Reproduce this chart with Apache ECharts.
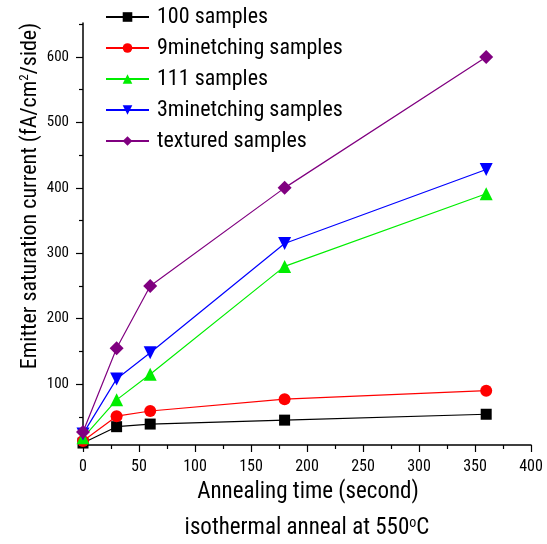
<!DOCTYPE html>
<html>
<head>
<meta charset="utf-8">
<script src="https://cdn.jsdelivr.net/npm/echarts@6/dist/echarts.min.js"></script>
<style>html,body{margin:0;padding:0;background:#fff}#c{width:547px;height:544px}</style>
</head>
<body>
<div id="c"></div>
<script>
const times = [0, 30, 60, 180, 360];
const s100 = [10, 35, 39, 45, 54];
const s9min = [13, 51, 59, 77, 90];
const s111 = [18, 76, 115, 280, 391];
const s3min = [24, 108, 148, 315, 428];
const sTextured = [27, 155, 250, 400, 600];
const seriesNames = ['100 samples', '9minetching samples', '111 samples', '3minetching samples', 'textured samples'];
const xTicks = [0, 50, 100, 150, 200, 250, 300, 350, 400];
const yMajor = [100, 200, 300, 400, 500, 600];
const yMinor = [50, 150, 250, 350, 450, 550, 650];

const FONT = '"Roboto Condensed", "Liberation Sans", Arial, sans-serif';
const colors = ['#000000', '#ff0000', '#00ee00', '#0000ff', '#800080'];
const symbols = ['rect', 'circle', 'triangle', 'path://M0,0 L10,0 L5,10 Z', 'diamond'];
const sizes = [11, 12, 13, 13, 14];
const datas = [s100, s9min, s111, s3min, sTextured];

const chart = echarts.init(document.getElementById('c'), null, {renderer: 'canvas'});
const series = datas.map((d, i) => ({
  name: seriesNames[i],
  type: 'line',
  yAxisIndex: 0,
  data: times.map((t, j) => [t, d[j]]),
  symbol: symbols[i],
  symbolSize: sizes[i],
  showAllSymbol: true,
  lineStyle: {color: colors[i], width: 1.2},
  itemStyle: {color: colors[i]},
  emphasis: {disabled: true},
  z: 2 + i
}));

chart.setOption({
  animation: false,
  backgroundColor: '#ffffff',
  grid: {left: 83, right: 16, top: 23, bottom: 99, containLabel: false},
  legend: {
    orient: 'vertical',
    left: 105,
    top: 6,
    padding: 0,
    itemWidth: 43,
    itemHeight: 12,
    itemGap: 9,
    data: seriesNames,
    textStyle: {fontFamily: FONT, fontSize: 22, color: '#000', padding: [0, 0, 0, 3]}
  },
  xAxis: {
    type: 'value',
    min: 0,
    max: 400,
    interval: 50,
    axisLine: {show: true, onZero: false, lineStyle: {color: '#000', width: 1.5}},
    axisTick: {show: true, length: 7, lineStyle: {color: '#000', width: 1.2}},
    minorTick: {show: true, splitNumber: 2, length: 4, lineStyle: {color: '#000', width: 1.2}},
    splitLine: {show: false},
    axisLabel: {fontFamily: FONT, fontSize: 16, color: '#000', margin: 14,
      customValues: xTicks}
  },
  yAxis: [{
    type: 'value',
    min: 7,
    max: 652,
    axisLine: {show: true, onZero: false, lineStyle: {color: '#000', width: 1.5}},
    axisTick: {show: true, length: 7, customValues: yMajor, lineStyle: {color: '#000', width: 1.2}},
    splitLine: {show: false},
    axisLabel: {fontFamily: FONT, fontSize: 15, color: '#000', margin: 14, customValues: yMajor}
  }, {
    type: 'value',
    position: 'left',
    min: 7,
    max: 652,
    axisLine: {show: false},
    axisTick: {show: true, length: 4, customValues: yMinor, lineStyle: {color: '#000', width: 1.2}},
    splitLine: {show: false},
    axisLabel: {show: false}
  }],
  graphic: [{
    type: 'text',
    x: 30, y: 196,
    rotation: Math.PI / 2,
    style: {
      text: 'Emitter saturation current (fA/cm{sup|2}/side)',
      fontFamily: FONT, fontSize: 22, fill: '#000',
      align: 'center', verticalAlign: 'middle',
      rich: {sup: {fontFamily: FONT, fontSize: 13, padding: [0, 0, 10, 0]}}
    }
  }, {
    type: 'text',
    x: 308, y: 492,
    style: {
      text: 'Annealing time (second)',
      fontFamily: FONT, fontSize: 23, fill: '#000',
      align: 'center', verticalAlign: 'middle'
    }
  }, {
    type: 'text',
    x: 307, y: 528,
    style: {
      text: 'isothermal anneal at 550{sup|o}C',
      fontFamily: FONT, fontSize: 23, fill: '#000',
      align: 'center', verticalAlign: 'middle',
      rich: {sup: {fontFamily: FONT, fontSize: 14, padding: [0, 0, 10, 0]}}
    }
  }],
  series: series
});
</script>
</body>
</html>
